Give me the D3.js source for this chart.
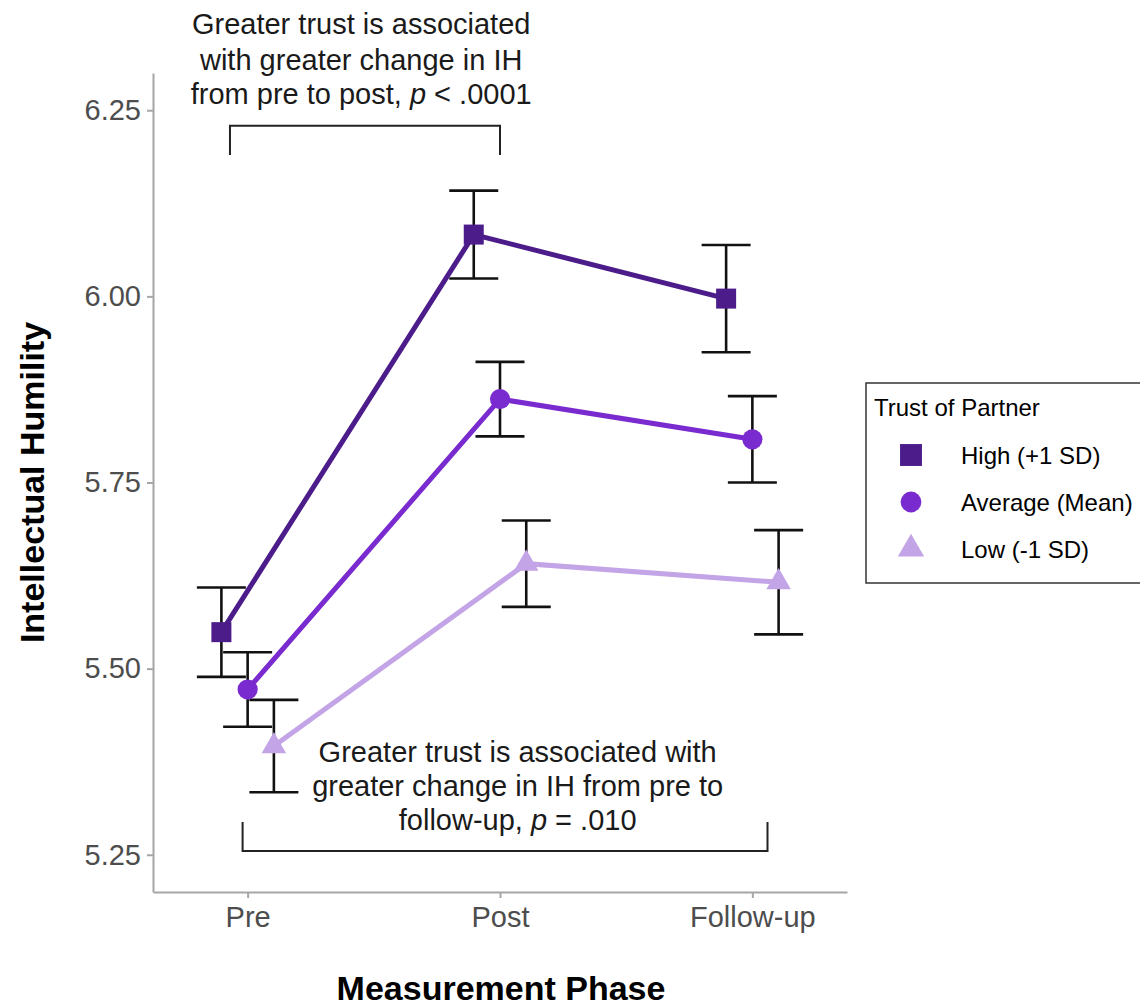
<!DOCTYPE html>
<html lang="en">
<head>
<meta charset="utf-8">
<title>Intellectual Humility by Trust of Partner</title>
<script src="https://cdnjs.cloudflare.com/ajax/libs/d3/7.8.5/d3.min.js"></script>
<style>
  body { margin: 0; background: #fff; }
  svg { display: block; font-family: "Liberation Sans", Arial, sans-serif; }
  .axis path, .axis line { stroke: #a6a6a6; stroke-width: 2px; }
  .axis text { fill: #4d4d4d; font-size: 29px; }
  .note { font-size: 29px; fill: #1a1a1a; }
  .bracket { fill: none; stroke: #222; stroke-width: 2px; }
</style>
</head>
<body>
<div id="chart"></div>
<script>
// values
var phases = ["Pre", "Post", "Follow-up"];
var groups = ["High (+1 SD)", "Average (Mean)", "Low (-1 SD)"];
var highMeans = [5.549, 6.083, 5.997];
var highSE = [0.060, 0.059, 0.072];
var avgMeans = [5.472, 5.862, 5.808];
var avgSE = [0.050, 0.050, 0.058];
var lowMeans = [5.396, 5.641, 5.616];
var lowSE = [0.062, 0.058, 0.070];
var yTicks = [5.25, 5.50, 5.75, 6.00, 6.25];

var colors = ["#4b1c8a", "#7a2bcf", "#c3a4e6"];
var shapes = [d3.symbolSquare, d3.symbolCircle, d3.symbolTriangle];
var shapeSize = [400, 320, 260];
var dodge = [-0.104, 0, 0.104];

var series = [
  { name: groups[0], means: highMeans, se: highSE },
  { name: groups[1], means: avgMeans, se: avgSE },
  { name: groups[2], means: lowMeans, se: lowSE }
];

var topNote = {
  lines: [["Greater trust is associated"], ["with greater change in IH"], ["from pre to post, ", "p", " < .0001"]],
  x: 1.45, y: [6.352, 6.304, 6.258],
  bracket: { x0: 0.93, x1: 2.0, y: 6.229, yEnd: 6.19 }
};
var bottomNote = {
  lines: [["Greater trust is associated with"], ["greater change in IH from pre to"], ["follow-up, ", "p", " = .010"]],
  x: 2.07, y: [5.375, 5.329, 5.283],
  bracket: { x0: 0.98, x1: 3.06, y: 5.255, yEnd: 5.294 }
};

var W = 1140, H = 1007;
var margin = { top: 73, right: 293, bottom: 115, left: 153 };
var width = W - margin.left - margin.right;
var height = H - margin.top - margin.bottom;

var svg = d3.select("#chart").append("svg")
  .attr("width", W)
  .attr("height", H);

var g = svg.append("g")
  .attr("transform", "translate(" + margin.left + "," + margin.top + ")");

var x = d3.scalePoint().domain(phases).range([0, width]).padding(0.375);
var y = d3.scaleLinear().domain([5.20, 6.30]).range([height, 0]);

// phase index (1-based, may be fractional) -> pixel
function xi(v) {
  return x(phases[0]) + (v - 1) * x.step();
}

// axes
g.append("g")
  .attr("class", "axis")
  .call(d3.axisLeft(y).tickValues(yTicks).tickFormat(d3.format(".2f")).tickSize(6).tickSizeOuter(0).tickPadding(6));

g.append("g")
  .attr("class", "axis")
  .attr("transform", "translate(0," + height + ")")
  .call(d3.axisBottom(x).tickSize(6).tickSizeOuter(0).tickPadding(8));

// axis titles
svg.append("text")
  .attr("x", margin.left + width / 2 + 1)
  .attr("y", 1000)
  .attr("text-anchor", "middle")
  .style("font-size", "34px")
  .style("font-weight", "bold")
  .text("Measurement Phase");

svg.append("text")
  .attr("transform", "translate(44," + (margin.top + y(5.75)) + ") rotate(-90)")
  .attr("text-anchor", "middle")
  .style("font-size", "34px")
  .style("font-weight", "bold")
  .text("Intellectual Humility");

// error bars
var capHalf = 24.5;
series.forEach(function (s, k) {
  var eb = g.append("g").attr("class", "errorbars");
  phases.forEach(function (p, i) {
    var cx = x(p) + dodge[k] * x.step();
    var lo = y(s.means[i] - s.se[i]);
    var hi = y(s.means[i] + s.se[i]);
    eb.append("line").attr("x1", cx).attr("x2", cx).attr("y1", lo).attr("y2", hi);
    eb.append("line").attr("x1", cx - capHalf).attr("x2", cx + capHalf).attr("y1", lo).attr("y2", lo);
    eb.append("line").attr("x1", cx - capHalf).attr("x2", cx + capHalf).attr("y1", hi).attr("y2", hi);
  });
  eb.selectAll("line").attr("stroke", "#111").attr("stroke-width", 2.6);
});

// lines
var line = d3.line()
  .x(function (d) { return d.x; })
  .y(function (d) { return y(d.v); });

series.forEach(function (s, k) {
  var pts = phases.map(function (p, i) {
    return { x: x(p) + dodge[k] * x.step(), v: s.means[i] };
  });
  s.pts = pts;
  g.append("path")
    .datum(pts)
    .attr("fill", "none")
    .attr("stroke", colors[k])
    .attr("stroke-width", 5)
    .attr("d", line);
});

// points
series.forEach(function (s, k) {
  g.selectAll(".pt" + k)
    .data(s.pts)
    .join("path")
    .attr("class", "pt" + k)
    .attr("transform", function (d) { return "translate(" + d.x + "," + y(d.v) + ")"; })
    .attr("d", d3.symbol().type(shapes[k]).size(shapeSize[k]))
    .attr("fill", colors[k]);
});

// annotations
function drawNote(note) {
  note.lines.forEach(function (parts, i) {
    var t = g.append("text")
      .attr("class", "note")
      .attr("x", xi(note.x))
      .attr("y", y(note.y[i]))
      .attr("text-anchor", "middle");
    parts.forEach(function (part) {
      t.append("tspan")
        .style("font-style", part === "p" ? "italic" : "normal")
        .text(part);
    });
  });
  var b = note.bracket;
  g.append("path")
    .attr("class", "bracket")
    .attr("d", "M" + xi(b.x0) + "," + y(b.yEnd) +
      "V" + y(b.y) + "H" + xi(b.x1) + "V" + y(b.yEnd));
}
drawNote(topNote);
drawNote(bottomNote);

// legend
var lg = svg.append("g").attr("transform", "translate(866,383)");
lg.append("rect")
  .attr("width", 290)
  .attr("height", 200)
  .attr("fill", "#fff")
  .attr("stroke", "#333")
  .attr("stroke-width", 1.5);
lg.append("text")
  .attr("x", 8)
  .attr("y", 33)
  .style("font-size", "24px")
  .text("Trust of Partner");

var legendSize = [480, 340, 300];
groups.forEach(function (name, k) {
  var row = lg.append("g").attr("transform", "translate(45," + (72 + k * 47) + ")");
  row.append("path")
    .attr("d", d3.symbol().type(shapes[k]).size(legendSize[k]))
    .attr("fill", colors[k]);
  row.append("text")
    .attr("x", 50)
    .attr("y", 9)
    .style("font-size", "24px")
    .text(name);
});
</script>
</body>
</html>
